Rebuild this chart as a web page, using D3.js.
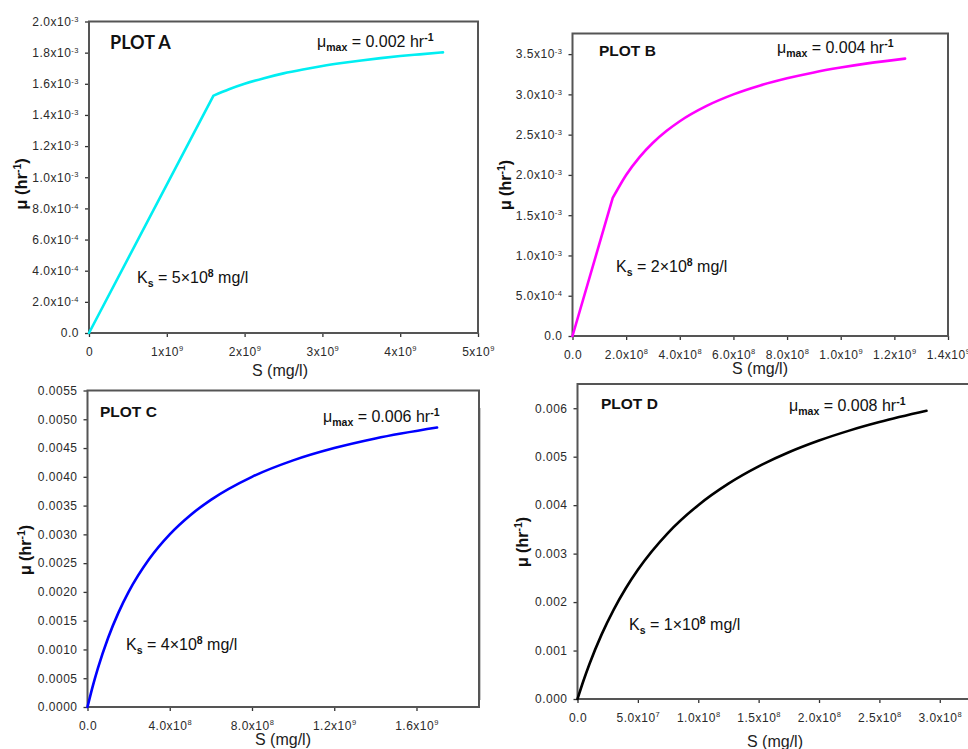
<!DOCTYPE html>
<html><head><meta charset="utf-8">
<script src="https://cdn.jsdelivr.net/npm/d3@7"></script>
<style>body{margin:0;background:#fff} svg{display:block}</style>
</head><body><svg id="c" width="968" height="749"></svg>
<script>
// ---------------- DATA ----------------
const plotA_S  = [0, 1.6e9, 1.8e9, 2.0e9, 2.25e9, 2.5e9, 2.75e9, 3.0e9, 3.25e9, 3.5e9, 3.75e9, 4.0e9, 4.25e9, 4.55e9];
const plotA_mu = [0, 1.524e-3, 1.565e-3, 1.600e-3, 1.636e-3, 1.667e-3, 1.692e-3, 1.714e-3, 1.733e-3, 1.750e-3, 1.765e-3, 1.778e-3, 1.789e-3, 1.802e-3];

const plotB_S  = [0, 1.5e8, 2.0e8, 2.5e8, 3.0e8, 3.5e8, 4.0e8, 5.0e8, 6.0e8, 7.0e8, 8.0e8, 9.0e8, 1.0e9, 1.1e9, 1.24e9];
const plotB_mu = [0, 1.714e-3, 2.000e-3, 2.222e-3, 2.400e-3, 2.545e-3, 2.667e-3, 2.857e-3, 3.000e-3, 3.111e-3, 3.200e-3, 3.273e-3, 3.333e-3, 3.385e-3, 3.444e-3];

const plotC_S  = [0, 2.5e7, 5e7, 1e8, 1.5e8, 2e8, 3e8, 4e8, 5e8, 6e8, 8e8, 1.0e9, 1.2e9, 1.4e9, 1.7e9];
const plotC_mu = [0, 3.53e-4, 6.67e-4, 1.200e-3, 1.636e-3, 2.000e-3, 2.571e-3, 3.000e-3, 3.333e-3, 3.600e-3, 4.000e-3, 4.286e-3, 4.500e-3, 4.667e-3, 4.857e-3];

const plotD_S  = [0, 5e6, 1e7, 2e7, 3e7, 4e7, 5e7, 7.5e7, 1e8, 1.25e8, 1.5e8, 1.75e8, 2e8, 2.25e8, 2.5e8, 2.89e8];
const plotD_mu = [0, 3.81e-4, 7.27e-4, 1.333e-3, 1.846e-3, 2.286e-3, 2.667e-3, 3.429e-3, 4.000e-3, 4.444e-3, 4.800e-3, 5.091e-3, 5.333e-3, 5.538e-3, 5.714e-3, 5.946e-3];

const plotA_xTicks = [0, 1e9, 2e9, 3e9, 4e9, 5e9];
const plotA_xTickLabels = ["0", "1x10^9", "2x10^9", "3x10^9", "4x10^9", "5x10^9"];
const plotA_yTicks = [0, 2e-4, 4e-4, 6e-4, 8e-4, 1.0e-3, 1.2e-3, 1.4e-3, 1.6e-3, 1.8e-3, 2.0e-3];
const plotA_yTickLabels = ["0.0", "2.0x10^-4", "4.0x10^-4", "6.0x10^-4", "8.0x10^-4", "1.0x10^-3", "1.2x10^-3", "1.4x10^-3", "1.6x10^-3", "1.8x10^-3", "2.0x10^-3"];

const plotB_xTicks = [0, 2e8, 4e8, 6e8, 8e8, 1.0e9, 1.2e9, 1.4e9];
const plotB_xTickLabels = ["0.0", "2.0x10^8", "4.0x10^8", "6.0x10^8", "8.0x10^8", "1.0x10^9", "1.2x10^9", "1.4x10^9"];
const plotB_yTicks = [0, 5e-4, 1.0e-3, 1.5e-3, 2.0e-3, 2.5e-3, 3.0e-3, 3.5e-3];
const plotB_yTickLabels = ["0.0", "5.0x10^-4", "1.0x10^-3", "1.5x10^-3", "2.0x10^-3", "2.5x10^-3", "3.0x10^-3", "3.5x10^-3"];

const plotC_xTicks = [0, 4e8, 8e8, 1.2e9, 1.6e9];
const plotC_xTickLabels = ["0.0", "4.0x10^8", "8.0x10^8", "1.2x10^9", "1.6x10^9"];
const plotC_yTicks = [0, 0.0005, 0.0010, 0.0015, 0.0020, 0.0025, 0.0030, 0.0035, 0.0040, 0.0045, 0.0050, 0.0055];
const plotC_yTickLabels = ["0.0000", "0.0005", "0.0010", "0.0015", "0.0020", "0.0025", "0.0030", "0.0035", "0.0040", "0.0045", "0.0050", "0.0055"];

const plotD_xTicks = [0, 5e7, 1e8, 1.5e8, 2e8, 2.5e8, 3e8];
const plotD_xTickLabels = ["0.0", "5.0x10^7", "1.0x10^8", "1.5x10^8", "2.0x10^8", "2.5x10^8", "3.0x10^8"];
const plotD_yTicks = [0, 0.001, 0.002, 0.003, 0.004, 0.005, 0.006];
const plotD_yTickLabels = ["0.000", "0.001", "0.002", "0.003", "0.004", "0.005", "0.006"];

const plotTitles = ["PLOT A", "PLOT B", "PLOT C", "PLOT D"];
const muMaxValues = ["0.002", "0.004", "0.006", "0.008"];
const ksValues = ["5", "2", "4", "1"];
const xAxisTitle = "S (mg/l)";

// ---------------- LAYOUT ----------------
// kink: number of leading points joined by straight segments before the smooth part
const panels = [
  {S: plotA_S, mu: plotA_mu, color: "#00eef2", kink: 1,
   xd: [0, 5e9], yd: [0, 0.002], box: {l: 89, t: 21.5, r: 478, b: 333},
   xt: plotA_xTicks, xl: plotA_xTickLabels, yt: plotA_yTicks, yl: plotA_yTickLabels,
   title: {x: 110, y: 49, font: "Lato, 'Liberation Sans', sans-serif", size: 18},
   mu_lbl: {x: 317, y: 46.5}, ks_lbl: {x: 137, y: 283},
   ytitle: {x: 27, y: 184, size: 16.5}, xtitle: {x: 280, y: 376}},
  {S: plotB_S, mu: plotB_mu, color: "#ff00ff", kink: 1,
   xd: [0, 1.4e9], yd: [0, 3.756e-3], box: {l: 572.5, t: 33.5, r: 948, b: 336},
   xt: plotB_xTicks, xl: plotB_xTickLabels, yt: plotB_yTicks, yl: plotB_yTickLabels,
   title: {x: 599, y: 56, font: "'Liberation Sans', Arial, sans-serif", size: 15.5},
   mu_lbl: {x: 777, y: 53}, ks_lbl: {x: 616, y: 271.5},
   ytitle: {x: 511, y: 185, size: 16}, xtitle: {x: 760, y: 374}},
  {S: plotC_S, mu: plotC_mu, color: "#0000ff", kink: 0,
   xd: [0, 1.904e9], yd: [0, 0.0055], box: {l: 87.5, t: 390.5, r: 479, b: 707},
   xt: plotC_xTicks, xl: plotC_xTickLabels, yt: plotC_yTicks, yl: plotC_yTickLabels,
   title: {x: 100, y: 417, font: "'Liberation Sans', Arial, sans-serif", size: 15.5},
   mu_lbl: {x: 323, y: 421.5}, ks_lbl: {x: 126, y: 650},
   ytitle: {x: 31, y: 550, size: 16}, xtitle: {x: 283, y: 745}},
  {S: plotD_S, mu: plotD_mu, color: "#000000", kink: 0,
   xd: [0, 3.3e8], yd: [0, 0.0065], box: {l: 577.5, t: 384, r: 976, b: 699},
   xt: plotD_xTicks, xl: plotD_xTickLabels, yt: plotD_yTicks, yl: plotD_yTickLabels,
   title: {x: 601, y: 409, font: "'Liberation Sans', Arial, sans-serif", size: 15.5},
   mu_lbl: {x: 789, y: 411}, ks_lbl: {x: 629, y: 630},
   ytitle: {x: 528, y: 542, size: 16}, xtitle: {x: 775, y: 747}}
];

const svg = d3.select("#c");
const FONT = "'Liberation Sans', Arial, sans-serif";

// faint crop edge line left of plot D
svg.append("line").attr("x1", 480.5).attr("x2", 480.5).attr("y1", 408).attr("y2", 700)
   .attr("stroke", "#c8c8c8").attr("stroke-width", 1);

function supLabel(sel, labels) {
  sel.each(function(d, i) {
    const t = d3.select(this);
    const parts = labels[i].split("^");
    t.text(null);
    t.append("tspan").text(parts[0]);
    if (parts[1] !== undefined) {
      t.append("tspan").attr("font-size", "7.5px").attr("dy", "-0.55em").text(parts[1]);
    }
  });
}

panels.forEach((p, k) => {
  const x = d3.scaleLinear().domain(p.xd).range([p.box.l, p.box.r]);
  const y = d3.scaleLinear().domain(p.yd).range([p.box.b, p.box.t]);
  const g = svg.append("g");

  // axes
  const xa = g.append("g").attr("transform", `translate(0,${p.box.b})`)
    .call(d3.axisBottom(x).tickValues(p.xt).tickSize(4).tickSizeOuter(0).tickPadding(10)
      .tickFormat((d, i) => p.xl[i]));
  const ya = g.append("g").attr("transform", `translate(${p.box.l},0)`)
    .call(d3.axisLeft(y).tickValues(p.yt).tickSize(4).tickSizeOuter(0).tickPadding(6)
      .tickFormat((d, i) => p.yl[i]));
  [xa, ya].forEach(a => {
    a.select(".domain").remove();
    a.selectAll(".tick line").attr("stroke", "#333").attr("stroke-width", 1.3);
    a.selectAll(".tick text").attr("font-family", FONT).attr("font-size", "12px")
      .attr("letter-spacing", "0.5px").attr("fill", "#2a2a2a");
  });
  supLabel(xa.selectAll(".tick text"), p.xl);
  supLabel(ya.selectAll(".tick text"), p.yl);

  // frame
  g.append("rect").attr("x", p.box.l).attr("y", p.box.t)
    .attr("width", p.box.r - p.box.l).attr("height", p.box.b - p.box.t)
    .attr("fill", "none").attr("stroke", "#555").attr("stroke-width", 2);

  // curve: straight segments up to the kink, smooth afterwards
  const pts = p.S.map((s, i) => [s, p.mu[i]]);
  const lin = d3.line().x(d => x(d[0])).y(d => y(d[1])).curve(d3.curveLinear);
  const smooth = d3.line().x(d => x(d[0])).y(d => y(d[1])).curve(d3.curveMonotoneX);
  let dstr;
  if (p.kink > 0) {
    dstr = lin(pts.slice(0, p.kink + 1)) + smooth(pts.slice(p.kink)).replace(/^M/, "L");
  } else {
    dstr = smooth(pts);
  }
  g.append("path").attr("d", dstr)
    .attr("fill", "none").attr("stroke", p.color).attr("stroke-width", 2.6)
    .attr("stroke-linejoin", "round").attr("stroke-linecap", "round");

  // title
  g.append("text").attr("x", p.title.x).attr("y", p.title.y)
    .attr("font-family", p.title.font).attr("font-weight", "bold")
    .attr("font-size", p.title.size + "px").attr("fill", "#111").text(plotTitles[k]);

  // mu max label
  const m = g.append("text").attr("x", p.mu_lbl.x).attr("y", p.mu_lbl.y)
    .attr("font-family", FONT).attr("font-size", "16px").attr("fill", "#111");
  m.append("tspan").text("μ");
  m.append("tspan").attr("font-size", "10.5px").attr("font-weight", "bold").attr("dy", 4).text("max");
  m.append("tspan").attr("dy", -4).text(" = " + muMaxValues[k] + " hr");
  m.append("tspan").attr("font-size", "10.5px").attr("font-weight", "bold").attr("dy", -6).text("-1");

  // Ks label
  const ks = g.append("text").attr("x", p.ks_lbl.x).attr("y", p.ks_lbl.y)
    .attr("font-family", FONT).attr("font-size", "16px").attr("fill", "#111");
  ks.append("tspan").text("K");
  ks.append("tspan").attr("font-size", "10.5px").attr("font-weight", "bold").attr("dy", 4).text("s");
  ks.append("tspan").attr("dy", -4).text(" = " + ksValues[k] + "×10");
  ks.append("tspan").attr("font-size", "10.5px").attr("font-weight", "bold").attr("dy", -6).text("8");
  ks.append("tspan").attr("dy", 6).text(" mg/l");

  // y axis title
  const yt = g.append("text")
    .attr("transform", `translate(${p.ytitle.x},${p.ytitle.y}) rotate(-90)`)
    .attr("text-anchor", "middle").attr("font-family", FONT).attr("font-weight", "bold")
    .attr("font-size", p.ytitle.size + "px").attr("fill", "#111");
  yt.append("tspan").text("μ (hr");
  yt.append("tspan").attr("font-size", "10.5px").attr("dy", -6).text("-1");
  yt.append("tspan").attr("dy", 6).text(")");

  // x axis title
  g.append("text").attr("x", p.xtitle.x).attr("y", p.xtitle.y)
    .attr("text-anchor", "middle").attr("font-family", FONT)
    .attr("font-size", "16px").attr("fill", "#222").text(xAxisTitle);
});
</script>
</body></html>
